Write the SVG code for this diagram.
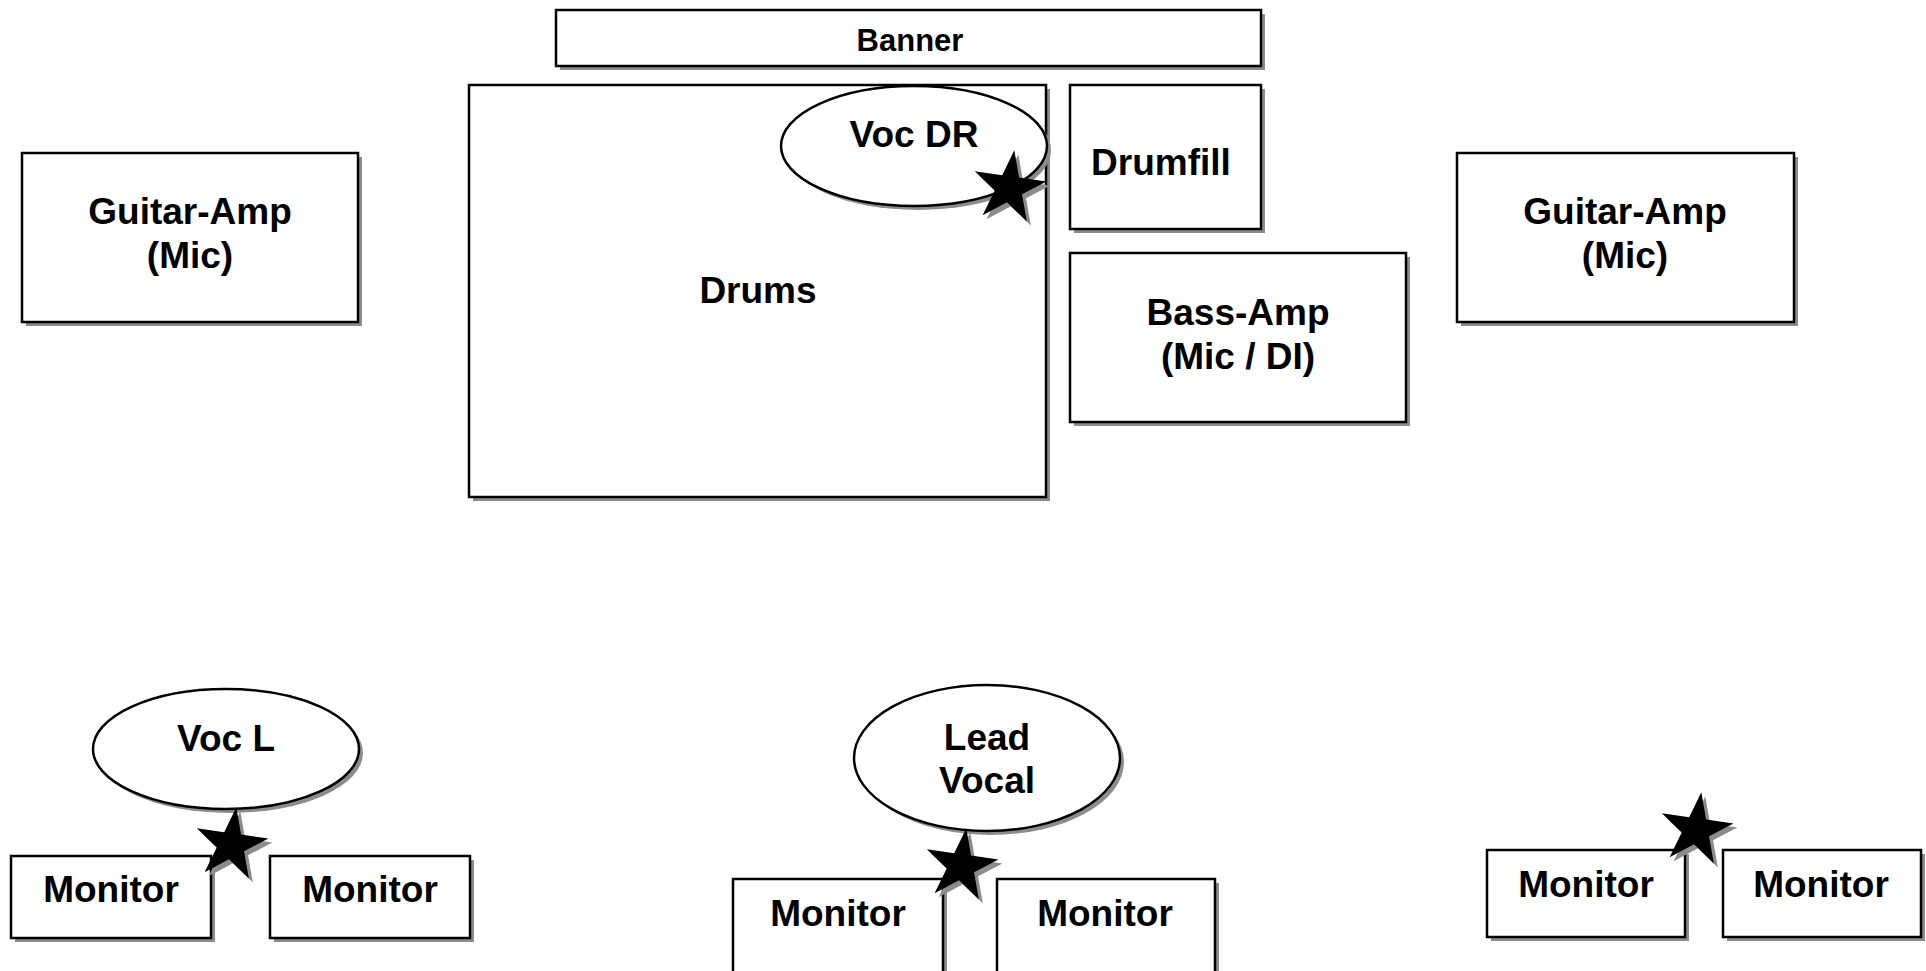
<svg xmlns="http://www.w3.org/2000/svg" xmlns:xlink="http://www.w3.org/1999/xlink" width="1926" height="971" viewBox="0 0 1926 971">
<style>
.sh{fill:#8c8c8c;stroke:none}
.bx{fill:#fff;stroke:#000;stroke-width:2.5}
.t{font-family:"Liberation Sans",Arial,sans-serif;font-weight:bold;font-size:37px;text-anchor:middle;fill:#000}
.st{fill:#000;stroke:none}
</style>
<defs>
<polygon id="star" points="0,-38 8.52,-11.73 36.14,-11.74 13.79,4.48 22.34,30.74 0,14.5 -22.34,30.74 -13.79,4.48 -36.14,-11.74 -8.52,-11.73"/>
</defs>
<rect width="1926" height="971" fill="#fff"/>
<g id="connectors"/>
<g id="banner">
<rect class="sh" x="560" y="14" width="705" height="56"/>
<rect class="bx" x="556" y="10" width="705" height="56"/>
<text class="t" x="910" y="51" style="font-size:31px">Banner</text>
</g>
<g id="drums">
<rect class="sh" x="473" y="89" width="577" height="412"/>
<rect class="bx" x="469" y="85" width="577" height="412"/>
<text class="t" x="758" y="303">Drums</text>
</g>
<g id="voc-dr">
<ellipse class="sh" cx="918" cy="150" rx="133" ry="60"/>
<ellipse class="bx" cx="914" cy="146" rx="133" ry="60"/>
<text class="t" x="914" y="147">Voc DR</text>
</g>
<g id="star-dr">
<use href="#star" class="sh" transform="translate(1013,192) rotate(8)"/>
<use href="#star" class="st" transform="translate(1009,188) rotate(8)"/>
</g>
<g id="drumfill">
<rect class="sh" x="1074" y="89" width="191" height="144"/>
<rect class="bx" x="1070" y="85" width="191" height="144"/>
<text class="t" x="1161" y="175">Drumfill</text>
</g>
<g id="bass-amp">
<rect class="sh" x="1074" y="257" width="336" height="169"/>
<rect class="bx" x="1070" y="253" width="336" height="169"/>
<text class="t" x="1238" y="325">Bass-Amp</text>
<text class="t" x="1238" y="369">(Mic / DI)</text>
</g>
<g id="guitar-amp-left">
<rect class="sh" x="26" y="157" width="336" height="169"/>
<rect class="bx" x="22" y="153" width="336" height="169"/>
<text class="t" x="190" y="224">Guitar-Amp</text>
<text class="t" x="190" y="268">(Mic)</text>
</g>
<g id="guitar-amp-right">
<rect class="sh" x="1461" y="157" width="337" height="169"/>
<rect class="bx" x="1457" y="153" width="337" height="169"/>
<text class="t" x="1625" y="224">Guitar-Amp</text>
<text class="t" x="1625" y="268">(Mic)</text>
</g>
<g id="voc-l">
<ellipse class="sh" cx="230" cy="753" rx="133" ry="60"/>
<ellipse class="bx" cx="226" cy="749" rx="133" ry="60"/>
<text class="t" x="226" y="751">Voc L</text>
</g>
<g id="monitor-l1">
<rect class="sh" x="15" y="860" width="200" height="82"/>
<rect class="bx" x="11" y="856" width="200" height="82"/>
<text class="t" x="111" y="902">Monitor</text>
</g>
<g id="monitor-l2">
<rect class="sh" x="274" y="860" width="200" height="82"/>
<rect class="bx" x="270" y="856" width="200" height="82"/>
<text class="t" x="370" y="902">Monitor</text>
</g>
<g id="star-l">
<use href="#star" class="sh" transform="translate(235,849) rotate(8)"/>
<use href="#star" class="st" transform="translate(231,845) rotate(8)"/>
</g>
<g id="lead-vocal">
<ellipse class="sh" cx="991" cy="762" rx="133" ry="73"/>
<ellipse class="bx" cx="987" cy="758" rx="133" ry="73"/>
<text class="t" x="987" y="750">Lead</text>
<text class="t" x="987" y="793">Vocal</text>
</g>
<g id="monitor-c1">
<rect class="sh" x="737" y="883" width="210" height="120"/>
<rect class="bx" x="733" y="879" width="210" height="120"/>
<text class="t" x="838" y="926">Monitor</text>
</g>
<g id="monitor-c2">
<rect class="sh" x="1001" y="883" width="218" height="120"/>
<rect class="bx" x="997" y="879" width="218" height="120"/>
<text class="t" x="1105" y="926">Monitor</text>
</g>
<g id="star-c">
<use href="#star" class="sh" transform="translate(965,870) rotate(8)"/>
<use href="#star" class="st" transform="translate(961,866) rotate(8)"/>
</g>
<g id="monitor-r1">
<rect class="sh" x="1491" y="854" width="198" height="87"/>
<rect class="bx" x="1487" y="850" width="198" height="87"/>
<text class="t" x="1586" y="897">Monitor</text>
</g>
<g id="monitor-r2">
<rect class="sh" x="1727" y="854" width="198" height="87"/>
<rect class="bx" x="1723" y="850" width="198" height="87"/>
<text class="t" x="1821" y="897">Monitor</text>
</g>
<g id="star-r">
<use href="#star" class="sh" transform="translate(1700,834) rotate(8)"/>
<use href="#star" class="st" transform="translate(1696,830) rotate(8)"/>
</g>
</svg>
